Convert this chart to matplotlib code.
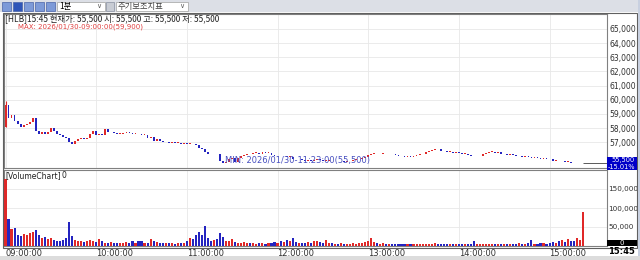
import numpy as np
import matplotlib
matplotlib.use("Agg")
import matplotlib.pyplot as plt
from matplotlib.patches import Rectangle

plt.rcParams['font.family'] = ['DejaVu Sans', 'Noto Sans CJK KR']

# 2-minute bars, 09:00 -> 15:20 plus closing auction bar
closes = [
    59600, 58700, 58900, 58500, 58300, 58100, 58200, 58300, 58400, 58700,
    57800, 57600, 57700, 57600, 57700, 58000, 57800, 57600, 57500, 57400,
    57300, 57000, 56900, 57100, 57200, 57300, 57200, 57300, 57600, 57800,
    57500, 57600, 57500, 57900, 57700, 57700, 57650, 57600, 57600, 57650,
    57700, 57650, 57600, 57600, 57550, 57500, 57500, 57300, 57400, 57100,
    57200, 57100, 57000, 57000, 56950, 57000, 56950, 56950, 56900, 56950,
    56900, 56900, 56850, 56800, 56600, 56500, 56300, 56200, 56150, 56200,
    56150, 55700, 55500, 55600, 55800, 55900, 55600, 55900, 56000, 56100,
    56200, 56150, 56250, 56250, 56200, 56300, 56250, 56250, 56100, 56000,
    56050, 56000, 56000, 55950, 55950, 55850, 55800, 55800, 55750, 55700,
    55750, 55700, 55750, 55800, 55750, 55700, 55700, 55700, 55650, 55700,
    55650, 55700, 55600, 55650, 55700, 55750, 55800, 55850, 55900, 55950,
    56100, 56200, 56200, 56150, 56200, 56200, 56150, 56200, 56150, 56100,
    56050, 56000, 55950, 56000, 55950, 56000, 56100, 56150, 56200, 56300,
    56400, 56450, 56550, 56500, 56400, 56350, 56300, 56300, 56250, 56300,
    56250, 56200, 56200, 56100, 56050, 56000, 56000, 56050, 56150, 56250,
    56300, 56300, 56250, 56300, 56150, 56150, 56100, 56150, 56100, 56000,
    56000, 55950, 56000, 55950, 55900, 55950, 55900, 55850, 55900, 55850,
    55800, 55700, 55700, 55650, 55650, 55600, 55600, 55550, 55500, 55500,
    55500, 55500,
]
first_open = 58100
max_price = 59900

volumes = [
    176000, 70000, 45000, 48000, 30000, 26000, 32000, 28000, 34000, 38000,
    42000, 30000, 22000, 24000, 18000, 21000, 16000, 14000, 12000, 15000,
    20000, 63000, 26000, 15000, 12000, 14000, 10000, 12000, 15000, 13000,
    11000, 18000, 12000, 9000, 8000, 10000, 9000, 7000, 8000, 9000,
    10000, 8000, 12000, 9000, 14000, 12000, 8000, 9000, 18000, 12000,
    10000, 9000, 8000, 7000, 8000, 9000, 6000, 7000, 8000, 7000,
    12000, 22000, 18000, 28000, 37000, 30000, 53000, 20000, 14000, 15000,
    18000, 33000, 24000, 14000, 12000, 18000, 10000, 9000, 8000, 10000,
    7000, 8000, 9000, 6000, 7000, 8000, 6000, 7000, 8000, 10000,
    9000, 12000, 10000, 16000, 12000, 21000, 10000, 8000, 9000, 7000,
    10000, 9000, 12000, 14000, 10000, 8000, 16000, 9000, 7000, 6000,
    6000, 7000, 5000, 6000, 5000, 7000, 6000, 8000, 9000, 10000,
    12000, 21000, 10000, 8000, 6000, 7000, 5000, 6000, 5000, 4000,
    5000, 6000, 5000, 4000, 5000, 4000, 6000, 5000, 4000, 5000,
    6000, 5000, 7000, 5000, 4000, 5000, 6000, 5000, 4000, 5000,
    6000, 5000, 4000, 5000, 6000, 13000, 5000, 4000, 5000, 6000,
    4000, 5000, 6000, 4000, 5000, 6000, 5000, 4000, 5000, 6000,
    7000, 5000, 6000, 9000, 16000, 6000, 5000, 8000, 7000, 6000,
    8000, 10000, 9000, 12000, 16000, 10000, 18000, 14000, 12000, 21000,
    15000, 90000,
]

hour_labels = ["09:00:00", "10:00:00", "11:00:00", "12:00:00",
               "13:00:00", "14:00:00", "15:00:00"]
price_ticks = [57000, 58000, 59000, 60000, 61000, 62000, 63000, 64000, 65000]
volume_ticks = [50000, 100000, 150000]

W, H = 640, 260
def fx(x): return x / W
def fy(y): return 1 - y / H

fig = plt.figure(figsize=(6.4, 2.6), dpi=100)
fig.patch.set_facecolor('white')

RED = '#e02828'
BLUE = '#2424c0'
GRID = '#e8e8e8'
CJK = ['Noto Sans CJK KR', 'DejaVu Sans']

closes = np.array(closes)
opens = np.concatenate([[first_open], closes[:-1]])
idx = np.arange(len(closes))
up = closes >= opens
colors = np.where(up, RED, BLUE)

# price panel
ax = fig.add_axes([fx(4), fy(168), (607 - 4) / W, (168 - 14) / H])
body = np.maximum(np.abs(closes - opens), 45)
ax.bar(idx, body, bottom=np.minimum(opens, closes), width=0.6, color=colors, zorder=3)
ax.vlines(0, first_open, max_price, color=RED, lw=0.8, zorder=3)
ax.hlines(closes[-1], idx[-1], 199, color='#404040', lw=0.6, zorder=3)
ax.set_xlim(-0.5, 199)
ax.set_ylim(55180, 66050)
hour_pos = [h * 30 for h in range(len(hour_labels))]
ax.set_xticks(hour_pos)
ax.set_xticklabels([])
ax.set_yticks(price_ticks)
ax.set_yticklabels([f"{v:,}" for v in price_ticks])
ax.yaxis.tick_right()
ax.tick_params(axis='y', length=0, pad=2, labelsize=5.5, labelcolor='#303030')
ax.tick_params(axis='x', length=0)
ax.grid(True, color=GRID, lw=0.6, zorder=0)
for s in ax.spines.values():
    s.set_color('#808080')
    s.set_linewidth(0.8)

# volume panel
axv = fig.add_axes([fx(4), fy(246), (607 - 4) / W, (246 - 170) / H])
axv.bar(idx, volumes, width=0.7, color=colors, zorder=3)
axv.set_xlim(-0.5, 199)
axv.set_ylim(0, 200000)
axv.set_xticks(hour_pos)
axv.set_xticklabels(hour_labels)
for lab in axv.get_xticklabels():
    lab.set_horizontalalignment('left')
axv.tick_params(axis='x', length=0, pad=2, labelsize=6, labelcolor='#303030')
axv.set_yticks(volume_ticks)
axv.set_yticklabels([f"{v:,}" for v in volume_ticks])
axv.yaxis.tick_right()
axv.tick_params(axis='y', length=0, pad=1, labelsize=5.2, labelcolor='#303030')
axv.grid(True, color=GRID, lw=0.6, zorder=0)
for s in axv.spines.values():
    s.set_color('#808080')
    s.set_linewidth(0.8)

# window chrome
fig.add_artist(Rectangle((0, fy(12)), 1, 12 / H, transform=fig.transFigure,
                         facecolor='#dcdfe6', edgecolor='none', zorder=0))
for i, bx in enumerate([2, 13, 24, 35, 46]):
    fc = '#2f55b8' if i == 1 else '#7d9ad8'
    fig.add_artist(Rectangle((fx(bx), fy(11)), 9 / W, 9 / H, transform=fig.transFigure,
                             facecolor=fc, edgecolor='#4a64a8', lw=0.5))
fig.add_artist(Rectangle((fx(57), fy(11)), 48 / W, 9 / H, transform=fig.transFigure,
                         facecolor='white', edgecolor='#a0a0a0', lw=0.5))
fig.text(fx(59), fy(6.5), "1분", fontsize=6, va='center', family=CJK)
fig.text(fx(96), fy(6.5), "∨", fontsize=5, va='center', color='#606060')
fig.add_artist(Rectangle((fx(106), fy(11)), 8 / W, 9 / H, transform=fig.transFigure,
                         facecolor='#c8ccd4', edgecolor='#8890a0', lw=0.5))
fig.add_artist(Rectangle((fx(116), fy(11)), 72 / W, 9 / H, transform=fig.transFigure,
                         facecolor='white', edgecolor='#a0a0a0', lw=0.5))
fig.text(fx(118), fy(6.5), "주기보조지표", fontsize=6, va='center', color='#404040', family=CJK)
fig.text(fx(179), fy(6.5), "∨", fontsize=5, va='center', color='#606060')

# chart frame
fig.add_artist(Rectangle((fx(3), fy(248)), 634 / W, 235 / H, transform=fig.transFigure,
                         facecolor='none', edgecolor='#606060', lw=0.8))
fig.add_artist(Rectangle((fx(637.5), 0), 2.5 / W, 1, transform=fig.transFigure,
                         facecolor='#c8d0e0', edgecolor='none'))
fig.add_artist(Rectangle((0, 0), 1, 4 / H, transform=fig.transFigure,
                         facecolor='#dcdcdc', edgecolor='none'))

# info texts
fig.text(fx(5), fy(18.5), "[HLB]15:45 현재가: 55,500 시: 55,500 고: 55,500 저: 55,500",
         fontsize=6, va='center', color='#202020', family=CJK)
fig.text(fx(18), fy(26.5), "MAX: 2026/01/30-09:00:00(59,900)", fontsize=5, va='center',
         color='#e04040')
ax.text(72.5, 55420, "MIN: 2026/01/30-11:23:00(55,500)", fontsize=6, va='bottom',
        ha='left', color='#4850c0', zorder=4)
fig.text(fx(5), fy(176), "[VolumeChart]", fontsize=5.5, va='center', color='#202020')
fig.text(fx(62), fy(176), "0", fontsize=5.5, va='center', color='#202020')

# last price box and zero box
fig.add_artist(Rectangle((fx(607), fy(170)), 30 / W, 13.5 / H, transform=fig.transFigure,
                         facecolor='#0000c8', edgecolor='none'))
fig.text(fx(635), fy(160.2), "55,500", fontsize=4.8, ha='right', va='center', color='white')
fig.text(fx(635), fy(166.6), "-15.01%", fontsize=4.8, ha='right', va='center', color='white')
fig.add_artist(Rectangle((fx(607), fy(246)), 30 / W, 6 / H, transform=fig.transFigure,
                         facecolor='black', edgecolor='none'))
fig.text(fx(622), fy(243), "0", fontsize=5, ha='center', va='center', color='white')
fig.text(fx(635), fy(251.5), "15:45", fontsize=6, ha='right', va='center', color='black',
         fontweight='bold')

fig.savefig("out.png", dpi=100)
